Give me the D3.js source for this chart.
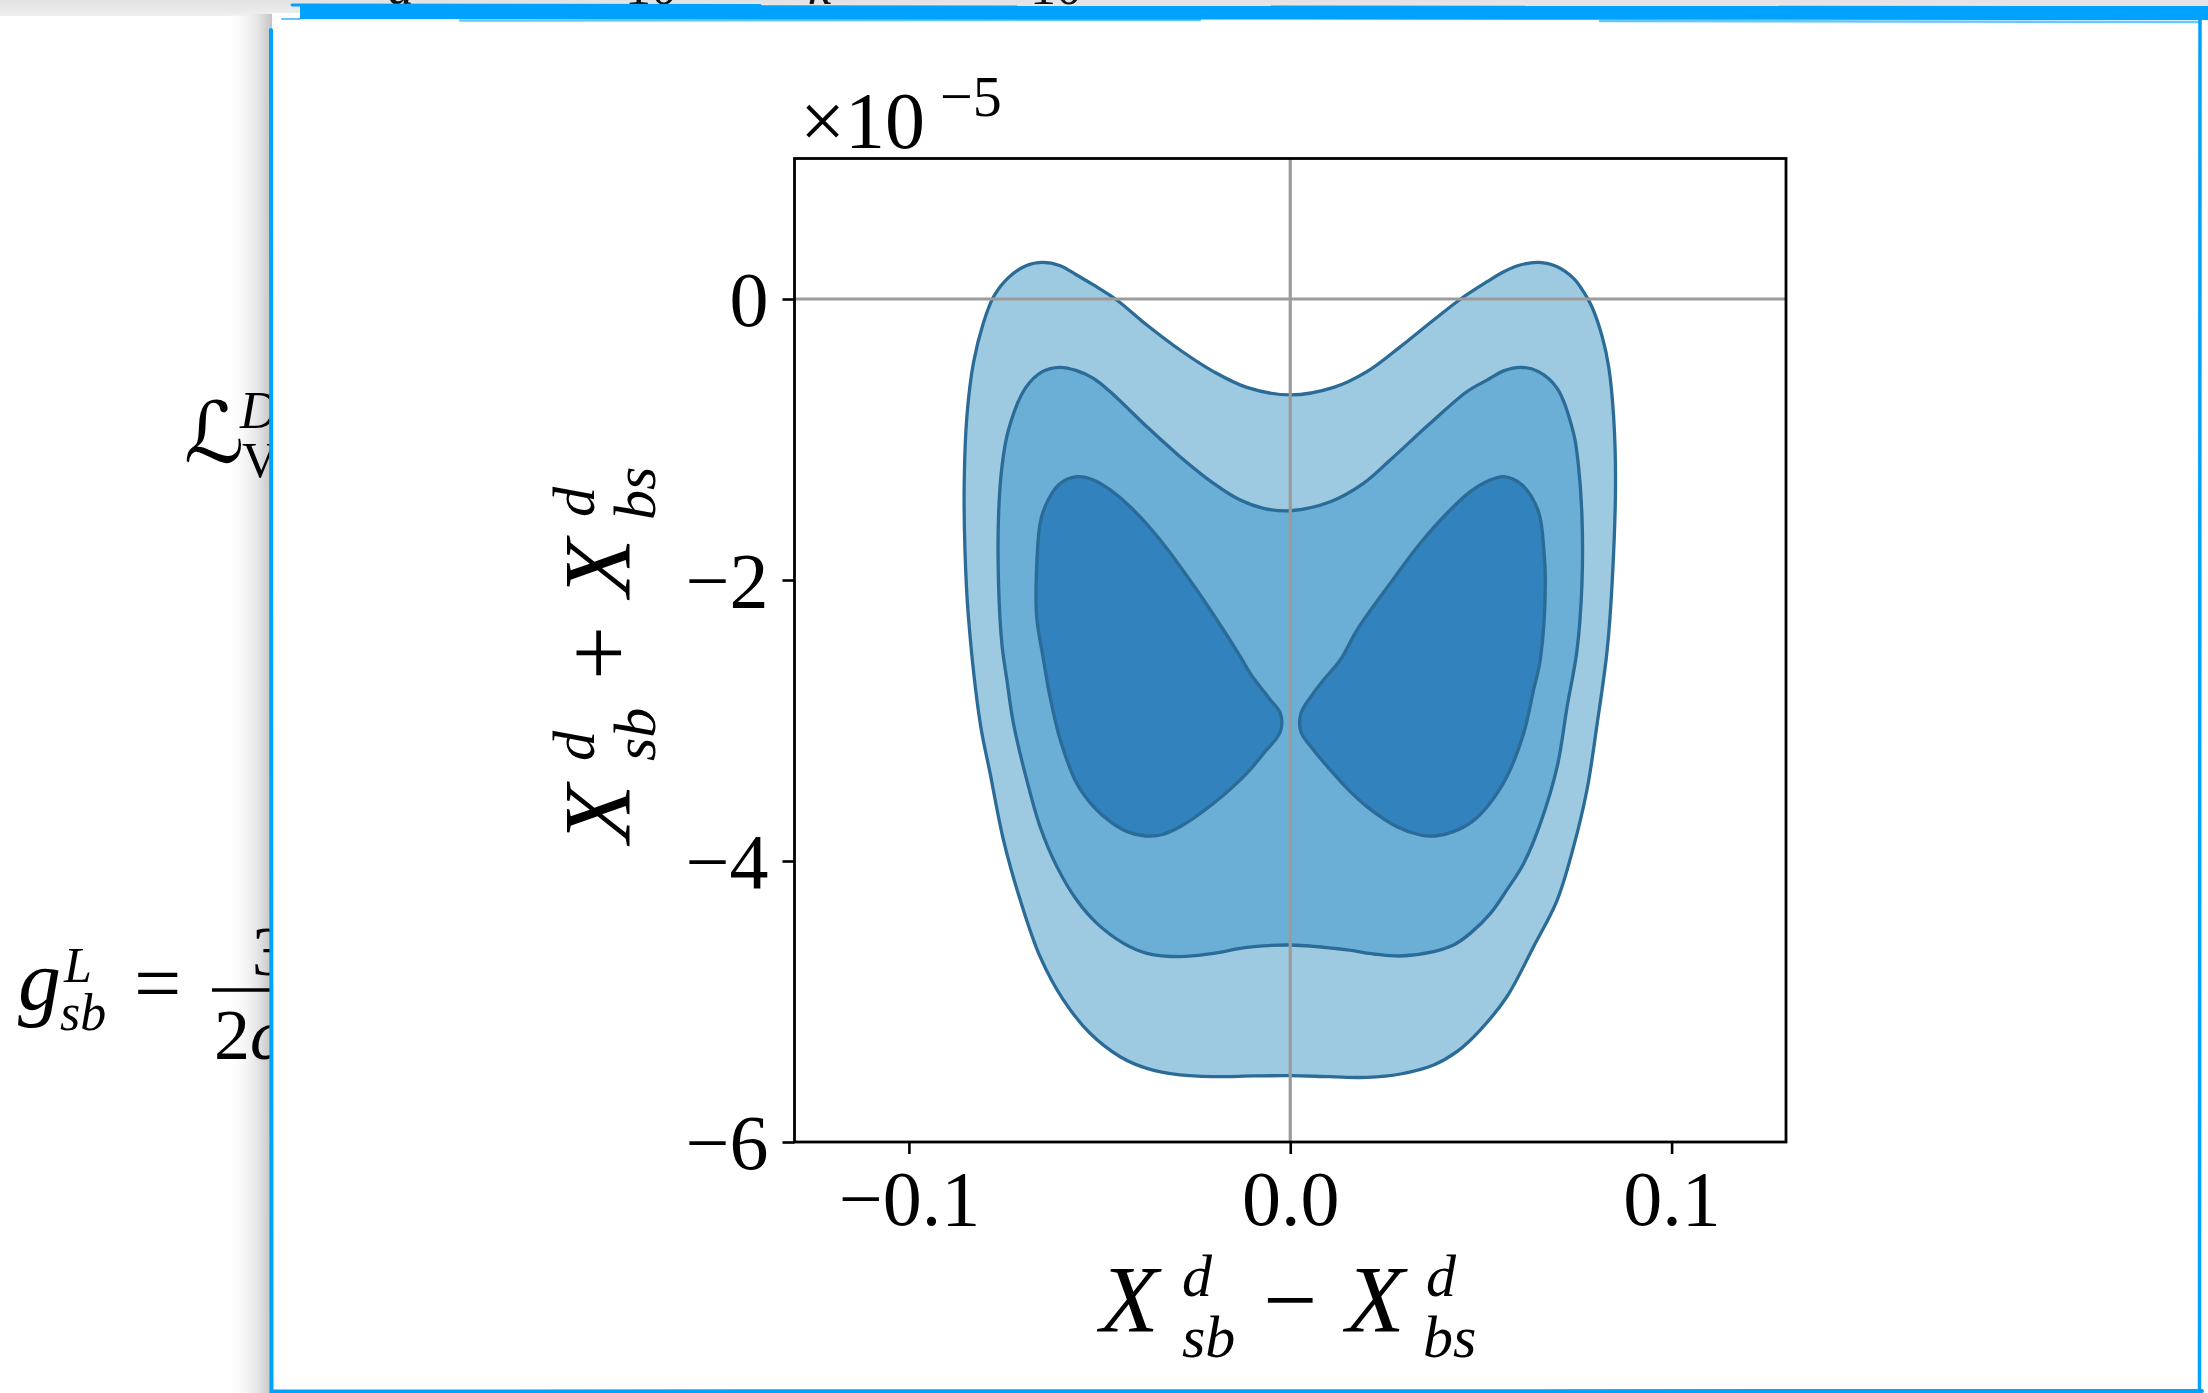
<!DOCTYPE html>
<html>
<head>
<meta charset="utf-8">
<script src="https://cdn.jsdelivr.net/npm/d3@7"></script>
<style>
  html, body { margin: 0; padding: 0; background: #ffffff; }
  svg { display: block; }
</style>
</head>
<body>
<svg id="chart" width="2208" height="1393"></svg>
<script>
// ---------------- data ----------------
const xTicks = [-0.1, 0.0, 0.1];
const xTickLabels = ["\u22120.1", "0.0", "0.1"];
const yTicks = [0, -2, -4, -6];
const yTickLabels = ["0", "\u22122", "\u22124", "\u22126"];
const xDomain = [-0.13, 0.13];
const yDomain = [-6, 1];           // in units of 1e-5
const offsetBase = "\u00d710";
const offsetExp = "\u22125";

// outermost filled region (lightest level)
const outerContour = [
  [0, -0.683], [-0.0114, -0.629], [-0.0201, -0.517], [-0.0289, -0.363], [-0.0376, -0.185],
  [-0.0455, -0.007], [-0.0516, 0.100], [-0.0560, 0.171], [-0.0603, 0.237], [-0.0650, 0.261],
  [-0.0693, 0.237], [-0.0739, 0.152], [-0.0778, 0.016], [-0.0805, -0.173], [-0.0831, -0.458],
  [-0.0848, -0.838], [-0.0855, -1.312], [-0.0853, -1.786], [-0.0844, -2.261], [-0.0813, -3.020],
  [-0.0787, -3.376], [-0.0752, -3.851], [-0.0708, -4.278], [-0.0656, -4.681], [-0.0595, -4.989],
  [-0.0525, -5.226], [-0.0446, -5.393], [-0.0376, -5.476], [-0.0289, -5.523], [-0.0201, -5.535],
  [-0.0096, -5.530], [0, -5.528], [0.0105, -5.535], [0.0201, -5.540], [0.0289, -5.516],
  [0.0376, -5.452], [0.0437, -5.357], [0.0498, -5.203], [0.0568, -4.966], [0.0638, -4.610],
  [0.0700, -4.278], [0.0743, -3.898], [0.0778, -3.495], [0.0805, -3.020], [0.0831, -2.500],
  [0.0844, -2.024], [0.0853, -1.312], [0.0848, -0.838], [0.0835, -0.482], [0.0818, -0.268],
  [0.0791, -0.055], [0.0769, 0.052], [0.0743, 0.147], [0.0700, 0.230], [0.0651, 0.261],
  [0.0603, 0.242], [0.0560, 0.194], [0.0516, 0.123], [0.0455, 0.016], [0.0376, -0.149],
  [0.0289, -0.339], [0.0201, -0.517], [0.0114, -0.629]
];

// middle filled region
const middleContour = [
  [0, -1.507], [-0.0070, -1.490], [-0.0131, -1.431], [-0.0201, -1.312], [-0.0289, -1.122],
  [-0.0376, -0.909], [-0.0472, -0.660], [-0.0516, -0.565], [-0.0560, -0.510], [-0.0605, -0.486],
  [-0.0650, -0.517], [-0.0695, -0.636], [-0.0739, -0.932], [-0.0756, -1.193], [-0.0765, -1.549],
  [-0.0765, -2.024], [-0.0756, -2.460], [-0.0743, -2.712], [-0.0726, -3.020], [-0.0691, -3.423],
  [-0.0656, -3.756], [-0.0612, -4.040], [-0.0560, -4.278], [-0.0507, -4.444], [-0.0437, -4.586],
  [-0.0376, -4.657], [-0.0289, -4.681], [-0.0201, -4.657], [-0.0114, -4.615], [0, -4.598],
  [0.0149, -4.633], [0.0219, -4.662], [0.0289, -4.676], [0.0376, -4.645], [0.0428, -4.598],
  [0.0472, -4.515], [0.0525, -4.373], [0.0568, -4.206], [0.0612, -4.017], [0.0656, -3.732],
  [0.0700, -3.329], [0.0726, -2.902], [0.0752, -2.500], [0.0765, -2.024], [0.0765, -1.549],
  [0.0756, -1.193], [0.0743, -0.956], [0.0700, -0.636], [0.0651, -0.517], [0.0605, -0.486],
  [0.0561, -0.510], [0.0516, -0.577], [0.0463, -0.660], [0.0367, -0.885], [0.0262, -1.146],
  [0.0192, -1.312], [0.0105, -1.443]
];

// innermost level: two lobes
const innerLeftLobe = [
  [-0.0560, -1.265], [-0.0516, -1.288], [-0.0472, -1.359], [-0.0420, -1.478], [-0.0341, -1.715],
  [-0.0245, -2.071], [-0.0175, -2.356], [-0.0131, -2.546], [-0.0105, -2.664], [-0.0079, -2.759],
  [-0.0052, -2.854], [-0.0026, -2.949], [-0.0026, -3.080], [-0.0070, -3.234], [-0.0114, -3.376],
  [-0.0201, -3.589], [-0.0289, -3.756], [-0.0341, -3.815], [-0.0380, -3.822], [-0.0428, -3.791],
  [-0.0472, -3.720], [-0.0516, -3.613], [-0.0560, -3.447], [-0.0603, -3.139], [-0.0630, -2.831],
  [-0.0647, -2.569], [-0.0665, -2.261], [-0.0665, -1.905], [-0.0656, -1.597], [-0.0643, -1.478],
  [-0.0608, -1.324]
];
const innerRightLobe = [
  [0.0561, -1.265], [0.0608, -1.324], [0.0651, -1.514], [0.0665, -1.786], [0.0669, -2.024],
  [0.0656, -2.560], [0.0638, -2.783], [0.0612, -3.091], [0.0568, -3.400], [0.0520, -3.601],
  [0.0477, -3.720], [0.0428, -3.791], [0.0380, -3.822], [0.0341, -3.815], [0.0280, -3.756],
  [0.0201, -3.613], [0.0149, -3.483], [0.0105, -3.352], [0.0061, -3.210], [0.0028, -3.080],
  [0.0028, -2.949], [0.0057, -2.819], [0.0087, -2.712], [0.0131, -2.569], [0.0175, -2.356],
  [0.0262, -2.024], [0.0341, -1.739], [0.0411, -1.525], [0.0472, -1.371], [0.0520, -1.293]
];

const regions = [
  { name: "outer", pts: outerContour, fill: "#9ecae1" },
  { name: "middle", pts: middleContour, fill: "#6baed6" },
  { name: "innerL", pts: innerLeftLobe, fill: "#3182bd" },
  { name: "innerR", pts: innerRightLobe, fill: "#3182bd" }
];

// ---------------- drawing ----------------
const svg = d3.select("#chart");
const W = 2208, H = 1393;
const SERIF = "'Liberation Serif', 'Times New Roman', serif";
const BLUE = "#00a2fd";

const defs = svg.append("defs");
const gTop = defs.append("linearGradient").attr("id", "topShade").attr("x1", 0).attr("y1", 0).attr("x2", 0).attr("y2", 1);
gTop.append("stop").attr("offset", "0%").attr("stop-color", "#e2e2e2");
gTop.append("stop").attr("offset", "100%").attr("stop-color", "#efefef");
const gLeft = defs.append("linearGradient").attr("id", "leftShade").attr("x1", 0).attr("y1", 0).attr("x2", 1).attr("y2", 0);
gLeft.append("stop").attr("offset", "0%").attr("stop-color", "#ffffff").attr("stop-opacity", 0);
gLeft.append("stop").attr("offset", "70%").attr("stop-color", "#e4e4e4").attr("stop-opacity", 1);
gLeft.append("stop").attr("offset", "100%").attr("stop-color", "#c4c4c4").attr("stop-opacity", 1);

// page background
svg.append("rect").attr("width", W).attr("height", H).attr("fill", "#ffffff");
svg.append("rect").attr("x", 0).attr("y", 0).attr("width", W).attr("height", 16).attr("fill", "url(#topShade)");

// cut-off text at the very top of the page (only the feet of the glyphs show)
const topFrag = [["a", 388, "italic"], ["=", 482, "normal"], ["10", 625, "normal"], ["k", 808, "italic"],
                 ["=", 884, "normal"], ["10", 1030, "normal"], ["\u2014", 1198, "normal"], ["\u2014", 1283, "normal"]];
svg.selectAll("text.topfrag").data(topFrag).join("text")
  .attr("class", "topfrag")
  .attr("x", d => d[1]).attr("y", 4)
  .attr("font-family", SERIF).attr("font-size", 52).attr("font-style", d => d[2])
  .attr("fill", "#111").text(d => d[0]);

// left shadow of the panel
svg.append("rect").attr("x", 226).attr("y", 14).attr("width", 46).attr("height", H - 14).attr("fill", "url(#leftShade)");

// left page text fragments (partly hidden by panel)
const leftText = svg.append("g").attr("fill", "#000").attr("font-family", SERIF);
leftText.append("text").attr("x", 184).attr("y", 462).attr("font-family", "'DejaVu Sans', sans-serif")
  .attr("font-size", 84).text("\u2112");
leftText.append("text").attr("x", 240).attr("y", 428).attr("font-size", 52).attr("font-style", "italic").text("D");
leftText.append("text").attr("x", 242).attr("y", 477).attr("font-size", 50).text("V");
leftText.append("text").attr("x", 18).attr("y", 1009).attr("font-size", 86).attr("font-style", "italic").text("g");
leftText.append("text").attr("x", 64).attr("y", 982).attr("font-size", 50).attr("font-style", "italic").text("L");
leftText.append("text").attr("x", 60).attr("y", 1030).attr("font-size", 52).attr("font-style", "italic").text("sb");
leftText.append("text").attr("x", 134).attr("y", 1012).attr("font-size", 84).text("=");
leftText.append("line").attr("x1", 212).attr("x2", 300).attr("y1", 990).attr("y2", 990).attr("stroke", "#000").attr("stroke-width", 3.5);
leftText.append("text").attr("x", 252).attr("y", 975).attr("font-size", 70).text("3");
leftText.append("text").attr("x", 214).attr("y", 1059).attr("font-size", 72).text("2");
leftText.append("text").attr("x", 250).attr("y", 1059).attr("font-size", 72).attr("font-style", "italic").text("c");

// the white panel holding the chart
svg.append("rect").attr("x", 272).attr("y", 13).attr("width", 1930).attr("height", H - 13).attr("fill", "#ffffff");

// blue hand-drawn-like frame
const frame = svg.append("g").attr("fill", "none").attr("stroke", BLUE).attr("stroke-linecap", "round");
frame.append("path").attr("d", "M300,5 L2208,6 L2208,20 L300,19 Z").attr("fill", BLUE).attr("stroke", "none");
frame.append("line").attr("x1", 292).attr("x2", 760).attr("y1", 5).attr("y2", 5.5).attr("stroke-width", 3);
frame.append("line").attr("x1", 460).attr("x2", 1200).attr("y1", 20.5).attr("y2", 20).attr("stroke-width", 2.5).attr("stroke-opacity", 0.6);
frame.append("line").attr("x1", 1600).attr("x2", 2200).attr("y1", 21).attr("y2", 22).attr("stroke-width", 2.5).attr("stroke-opacity", 0.6);
frame.append("line").attr("x1", 282).attr("x2", 300).attr("y1", 19).attr("y2", 19).attr("stroke-width", 2).attr("stroke-opacity", 0.6);
frame.append("line").attr("x1", 271).attr("x2", 271.5).attr("y1", 30).attr("y2", H).attr("stroke-width", 4);
frame.append("line").attr("x1", 2200).attr("x2", 2199.5).attr("y1", 19).attr("y2", H).attr("stroke-width", 3.5);
frame.append("line").attr("x1", 272).attr("x2", 2202).attr("y1", 1391.5).attr("y2", 1391).attr("stroke-width", 4);

// ---------------- the chart ----------------
const x = d3.scaleLinear().domain(xDomain).range([794.5, 1786]);
const y = d3.scaleLinear().domain(yDomain).range([1142, 158.5]);

const line = d3.line()
  .x(d => x(d[0])).y(d => y(d[1]))
  .curve(d3.curveCatmullRomClosed.alpha(0.5));

const plot = svg.append("g");
plot.selectAll("path.region").data(regions).join("path")
  .attr("class", "region")
  .attr("d", d => line(d.pts))
  .attr("fill", d => d.fill)
  .attr("stroke", "#2b6b97")
  .attr("stroke-width", 3.3)
  .attr("stroke-linejoin", "round");

// reference lines at zero
plot.append("line").attr("x1", x(0)).attr("x2", x(0)).attr("y1", y(yDomain[1])).attr("y2", y(yDomain[0]))
  .attr("stroke", "#9b9b9b").attr("stroke-width", 3.2);
plot.append("line").attr("x1", x(xDomain[0])).attr("x2", x(xDomain[1])).attr("y1", y(0)).attr("y2", y(0))
  .attr("stroke", "#9b9b9b").attr("stroke-width", 3.2);

// axes
const xAxis = d3.axisBottom(x).tickValues(xTicks).tickSize(12).tickFormat((d, i) => xTickLabels[i]);
const gx = svg.append("g").attr("transform", `translate(0,${y(yDomain[0])})`).call(xAxis);
gx.select(".domain").remove();
gx.selectAll(".tick line").attr("stroke", "#000").attr("stroke-width", 2.6);
gx.selectAll(".tick text").attr("y", 83).attr("dy", null)
  .attr("font-family", SERIF).attr("font-size", 78).attr("fill", "#000");

const yAxis = d3.axisLeft(y).tickValues(yTicks).tickSize(12).tickFormat((d, i) => yTickLabels[i]);
const gy = svg.append("g").attr("transform", `translate(${x(xDomain[0])},0)`).call(yAxis);
gy.select(".domain").remove();
gy.selectAll(".tick line").attr("stroke", "#000").attr("stroke-width", 2.6);
gy.selectAll(".tick text").attr("x", -26).attr("dy", "0.34em")
  .attr("font-family", SERIF).attr("font-size", 78).attr("fill", "#000");

// frame of the axes
svg.append("rect")
  .attr("x", x(xDomain[0])).attr("y", y(yDomain[1]))
  .attr("width", x(xDomain[1]) - x(xDomain[0])).attr("height", y(yDomain[0]) - y(yDomain[1]))
  .attr("fill", "none").attr("stroke", "#000").attr("stroke-width", 2.8);

// offset text  x10^-5
svg.append("text").attr("x", 800).attr("y", 148).attr("font-family", SERIF).attr("font-size", 80).text(offsetBase);
svg.append("text").attr("x", 940).attr("y", 116).attr("font-family", SERIF).attr("font-size", 58).text(offsetExp);

// axis labels built from pieces (math style)
function mathLabel(g, op) {
  const t = (txt, px, py, size, italic) => g.append("text")
    .attr("x", px).attr("y", py).attr("font-family", SERIF).attr("font-size", size)
    .attr("font-style", italic ? "italic" : "normal").attr("fill", "#000").text(txt);
  t("X", -190, 0, 96, true);
  t("d", -108, -36, 60, true);
  t("sb", -108, 25, 60, true);
  g.append("text").attr("x", 0).attr("y", 0).attr("text-anchor", "middle")
    .attr("font-family", SERIF).attr("font-size", 96).attr("fill", "#000").text(op);
  t("X", 56, 0, 96, true);
  t("d", 136, -36, 60, true);
  t("bs", 133, 25, 60, true);
}
mathLabel(svg.append("g").attr("transform", "translate(1290,1332)"), "\u2212");
mathLabel(svg.append("g").attr("transform", "translate(630,653) rotate(-90)"), "+");
</script>
</body>
</html>
